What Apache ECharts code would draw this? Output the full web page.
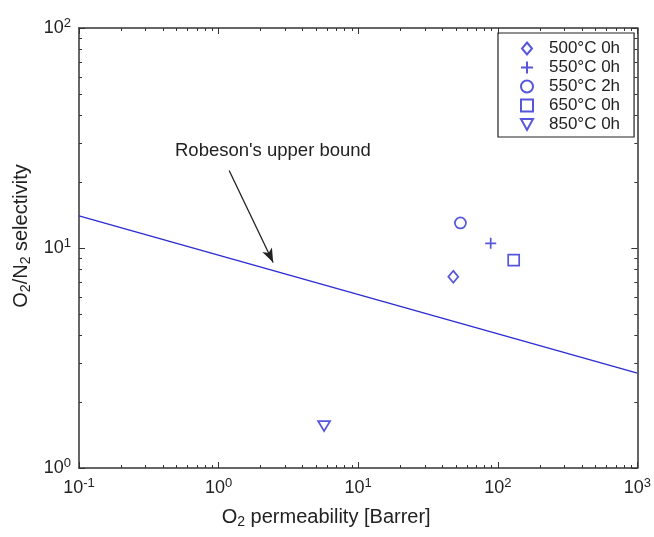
<!DOCTYPE html>
<html>
<head>
<meta charset="utf-8">
<script src="https://cdn.jsdelivr.net/npm/echarts@6/dist/echarts.min.js"></script>
<style>
  html, body { margin: 0; padding: 0; background: #fff; }
  #main { width: 654px; height: 537px; }
</style>
</head>
<body>
<div id="main"></div>
<script>
// sample points [O2 permeability, O2/N2 selectivity]
var s500_0h = [[48, 7.4]];
var s550_0h = [[89, 10.5]];
var s550_2h = [[54, 13.0]];
var s650_0h = [[130, 8.8]];
var s850_0h = [[5.7, 1.55]];
// Robeson upper bound, end points
var robeson = [[0.1, 14.0], [1000, 2.7]];
// arrow from label to line
var arrowFrom = [1.19, 22.5];
var arrowTo = [2.46, 8.6];

var blue = '#2c2cd2';
var axisCol = '#333';
var font = 'Liberation Sans, Arial, sans-serif';

var plusPath = 'path://M0,5L10,5M5,0L5,10';
var downTri = 'path://M0,0L10,0L5,9Z';

function powLabel(v) {
  var e = Math.round(Math.log10(v));
  return '{b|10}{s|' + e + '}';
}
var powRich = {
  b: { fontSize: 18, fontFamily: font, color: '#222' },
  s: { fontSize: 13, fontFamily: font, color: '#222', padding: [0, 0, 10, 0] }
};

function mkAxis(pos, show, min, max, isX) {
  return {
    type: 'log',
    logBase: 10,
    position: pos,
    min: min,
    max: max,
    axisLine: { show: true, onZero: false, lineStyle: { color: axisCol, width: 1.5 } },
    axisTick: { show: true, inside: true, length: 6, lineStyle: { color: axisCol } },
    minorTick: { show: true, splitNumber: 9, length: 3, lineStyle: { color: axisCol } },
    splitLine: { show: false },
    axisLabel: {
      show: show,
      formatter: powLabel,
      rich: powRich,
      margin: isX ? 9 : 8
    }
  };
}

var subStyle = { fontSize: 14, fontFamily: font, color: '#222', padding: [9, 0, 0, 0] };

var xMain = mkAxis('bottom', true, 0.1, 1000, true);
xMain.name = 'O{sub|2} permeability [Barrer]';
xMain.nameLocation = 'middle';
xMain.nameGap = 38;
xMain.nameTextStyle = {
  fontSize: 20, fontFamily: font, color: '#222', padding: [0, 64, 0, 0],
  rich: { sub: subStyle }
};
var yMain = mkAxis('left', true, 1, 100, false);
yMain.name = 'O{sub|2}/N{sub|2} selectivity';
yMain.nameLocation = 'middle';
yMain.nameGap = 39;
yMain.nameRotate = 90;
yMain.nameTextStyle = {
  fontSize: 20, fontFamily: font, color: '#222', padding: [0, 0, 0, 24],
  rich: { sub: subStyle }
};

function scatter(name, data, symbol, size) {
  return {
    name: name,
    type: 'scatter',
    data: data,
    symbol: symbol,
    symbolSize: size,
    itemStyle: { color: 'rgba(0,0,0,0)', borderColor: blue, borderWidth: 1.7 },
    z: 3
  };
}

var option = {
  backgroundColor: '#fff',
  animation: false,
  textStyle: { fontFamily: font },
  grid: { left: 79, top: 28, right: 16, bottom: 69, containLabel: false },
  xAxis: [xMain, mkAxis('top', false, 0.1, 1000, true)],
  yAxis: [yMain, mkAxis('right', false, 1, 100, false)],
  legend: {
    orient: 'vertical',
    left: 498,
    top: 33,
    itemWidth: 12,
    itemHeight: 12,
    itemGap: 2,
    padding: [7, 14, 4, 22],
    borderColor: '#222',
    borderWidth: 1.2,
    textStyle: { fontSize: 17, fontFamily: font, color: '#222', padding: [0, 0, 0, 11] },
    data: ['500°C 0h', '550°C 0h', '550°C 2h', '650°C 0h', '850°C 0h']
  },
  graphic: [{
    type: 'text',
    left: 175,
    top: 141,
    style: { text: "Robeson's upper bound", fontSize: 18.5, fontFamily: font, fill: '#222' }
  }],
  series: [
    scatter('500°C 0h', s500_0h, 'path://M5,0L10,6L5,12L0,6Z', [10, 12]),
    scatter('550°C 0h', s550_0h, plusPath, 11),
    scatter('550°C 2h', s550_2h, 'circle', 11),
    scatter('650°C 0h', s650_0h, 'rect', 11),
    scatter('850°C 0h', s850_0h, downTri, [12, 10]),
    {
      name: 'Robeson',
      type: 'line',
      data: robeson,
      symbol: 'none',
      lineStyle: { color: blue, width: 1.5 },
      markLine: {
        silent: true,
        symbol: ['none', 'arrow'],
        symbolSize: [8, 14],
        lineStyle: { color: '#222', width: 1.3, type: 'solid' },
        label: { show: false },
        data: [[{ coord: arrowFrom }, { coord: arrowTo }]]
      }
    }
  ]
};

var myChart = echarts.init(document.getElementById('main'), null, { renderer: 'canvas' });
myChart.setOption(option);
</script>
</body>
</html>
